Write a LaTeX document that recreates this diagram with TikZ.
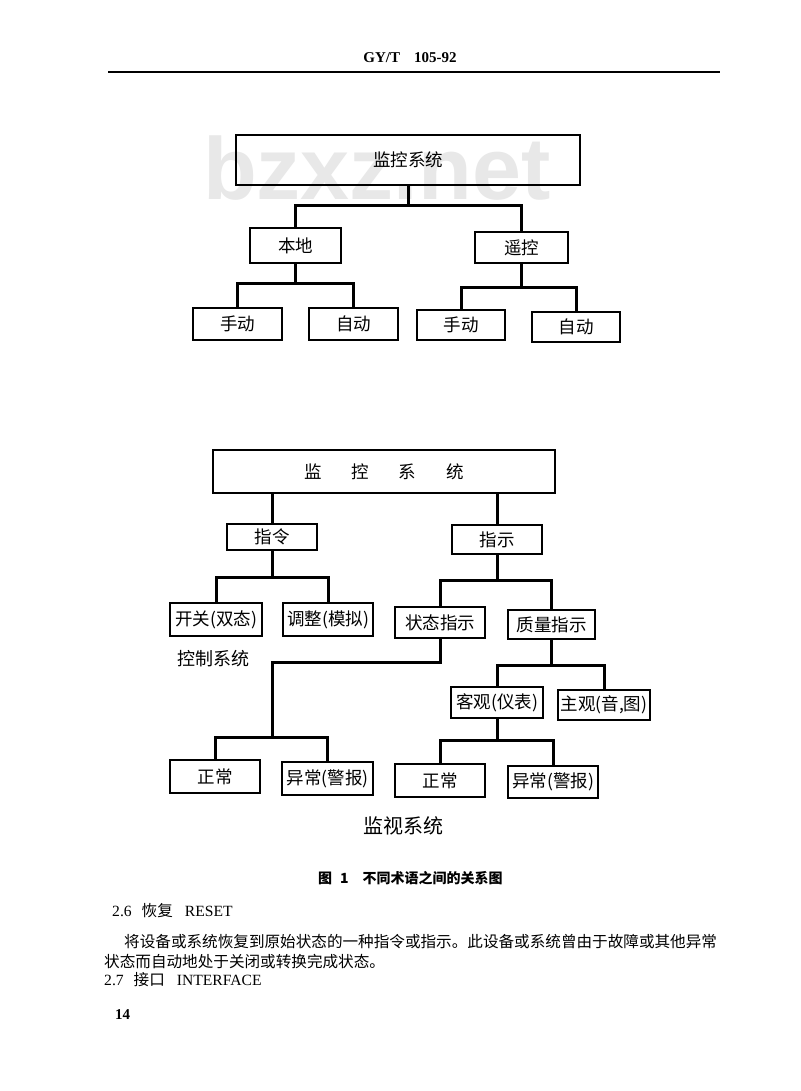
\documentclass[tikz,border=0pt]{standalone}
\usepackage{fontspec}
\setmainfont{Liberation Serif}
\setsansfont{Liberation Sans}
\newfontfamily\cjk{Noto Sans CJK SC}
\usepackage{tikz}
\tikzset{
  box/.style={draw=black, line width=2.1pt, inner sep=1pt,
              font=\cjk\fontsize{17.5}{17.5}\selectfont, minimum width=#1},
  box/.default=90pt,
  link/.style={draw=black, line width=3pt, line join=miter},
  lbl/.style={font=\cjk\fontsize{18}{18}\selectfont, inner sep=0pt},
  txt/.style={anchor=base west, inner sep=0pt, font=\fontsize{15.6}{15.6}\selectfont},
}

\begin{document}
\begin{tikzpicture}[x=1pt, y=-1pt]
  \useasboundingbox (0,0) rectangle (800,1091);
  \fill[white] (0,0) rectangle (800,1091);

  % page head
  \node[inner sep=0pt, font=\bfseries\fontsize{15}{15}\selectfont] (head) at (410,58) {GY/T\hspace{14pt}105-92};
  \coordinate (ruleL) at (108,72);
  \coordinate (ruleR) at (720,72);
  \draw[line width=1.8pt] (ruleL) -- (ruleR);

  % watermark
  \node[anchor=base west, inner sep=0pt, text=black!9,
        font=\sffamily\bfseries\fontsize{88}{88}\selectfont] (mark) at (203,200) {bzxz.net};

  % first tree
  \node[box=344pt, minimum height=50pt] (top1) at (408,160) {监控系统};
  \node[box=91pt, minimum height=35pt] (ben) at (295.5,245.5) {本地};
  \node[box=93pt, minimum height=31pt] (yao) at (521.5,247.5) {遥控};
  \node[box=89pt, minimum height=32pt] (sd1) at (237.5,324) {手动};
  \node[box=89pt, minimum height=32pt] (zd1) at (353.5,324) {自动};
  \node[box=88pt, minimum height=30pt] (sd2) at (461,325) {手动};
  \node[box=88pt, minimum height=30pt] (zd2) at (576,327) {自动};
  \coordinate (j1) at (408,206);
  \coordinate (j2) at (295.5,283);
  \coordinate (j3) at (521.5,287);
  \draw[link] (top1.south) -- (j1);
  \draw[link] (ben.north) |- (j1) -| (yao.north);
  \draw[link] (ben.south) -- (j2);
  \draw[link] (sd1.north) |- (j2) -| (zd1.north);
  \draw[link] (yao.south) -- (j3);
  \draw[link] (sd2.north) |- (j3) -| (zd2.north);

  % second tree
  \node[box=342pt, minimum height=43pt] (top2) at (384,471.5) {监\hspace{30pt}控\hspace{30pt}系\hspace{30pt}统};
  \node[box=90pt, minimum height=26pt] (zl) at (272,537) {指令};
  \node[box=90pt, minimum height=29pt] (zs) at (497,539.5) {指示};
  \node[box=92pt, minimum height=33pt] (kg) at (216,619.5) {开关(双态)};
  \node[box=90pt, minimum height=33pt] (tz) at (328,619.5) {调整(模拟)};
  \node[box=90pt, minimum height=31pt] (ztzs) at (440,622.5) {状态指示};
  \node[box=87pt, minimum height=29pt] (zlzs) at (551.5,624.5) {质量指示};
  \node[box=92pt, minimum height=31pt] (kgyb) at (497,702.5) {客观(仪表)};
  \node[box=92pt, minimum height=30pt] (zgyt) at (604,705) {主观(音,图)};
  \node[box=90pt, minimum height=33pt] (zc1) at (215,776.5) {正常};
  \node[box=91pt, minimum height=33pt] (yc1) at (327.5,778.5) {异常(警报)};
  \node[box=90pt, minimum height=33pt] (zc2) at (440,780.5) {正常};
  \node[box=90pt, minimum height=32pt] (yc2) at (553,782) {异常(警报)};
  \node[lbl] (kzxt) at (213,659) {控制系统};
  \node[lbl, font=\cjk\fontsize{20}{20}\selectfont] (jsxt) at (403,826) {监视系统};
  \coordinate (k1) at (272,577);
  \coordinate (k2) at (497,580);
  \coordinate (k3) at (272,662);
  \coordinate (k4) at (272,737);
  \coordinate (k5) at (551.5,665);
  \coordinate (k6) at (497,740);
  \draw[link] (zl.north) -- (zl.north |- top2.south);
  \draw[link] (zs.north) -- (zs.north |- top2.south);
  \draw[link] (zl.south) -- (k1);
  \draw[link] (kg.north) |- (k1) -| (tz.north);
  \draw[link] (zs.south) -- (k2);
  \draw[link] (ztzs.north) |- (k2) -| (zlzs.north);
  \draw[link] (ztzs.south) |- (k3) -- (k4);
  \draw[link] (zc1.north) |- (k4) -| (yc1.north);
  \draw[link] (zlzs.south) -- (k5);
  \draw[link] (kgyb.north) |- (k5) -| (zgyt.north);
  \draw[link] (kgyb.south) -- (k6);
  \draw[link] (zc2.north) |- (k6) -| (yc2.north);

  % caption and body text
  \node[txt, font=\cjk\bfseries\fontsize{14}{14}\selectfont] (cap) at (318,883) {图\hspace{8pt}1\hspace{14pt}不同术语之间的关系图};
  \node[txt] (s26) at (112,916) {2.6\hspace{10pt}{\cjk 恢复}\hspace{12pt}RESET};
  \node[txt, font=\cjk\fontsize{15.6}{15.6}\selectfont] (p1) at (124,947) {将设备或系统恢复到原始状态的一种指令或指示。此设备或系统曾由于故障或其他异常};
  \node[txt, font=\cjk\fontsize{15.6}{15.6}\selectfont] (p2) at (104,967) {状态而自动地处于关闭或转换完成状态。};
  \node[txt] (s27) at (104,985) {2.7\hspace{10pt}{\cjk 接口}\hspace{12pt}INTERFACE};
  \node[txt, font=\bfseries\fontsize{15}{15}\selectfont] (pg) at (115,1019) {14};
\end{tikzpicture}
\end{document}
